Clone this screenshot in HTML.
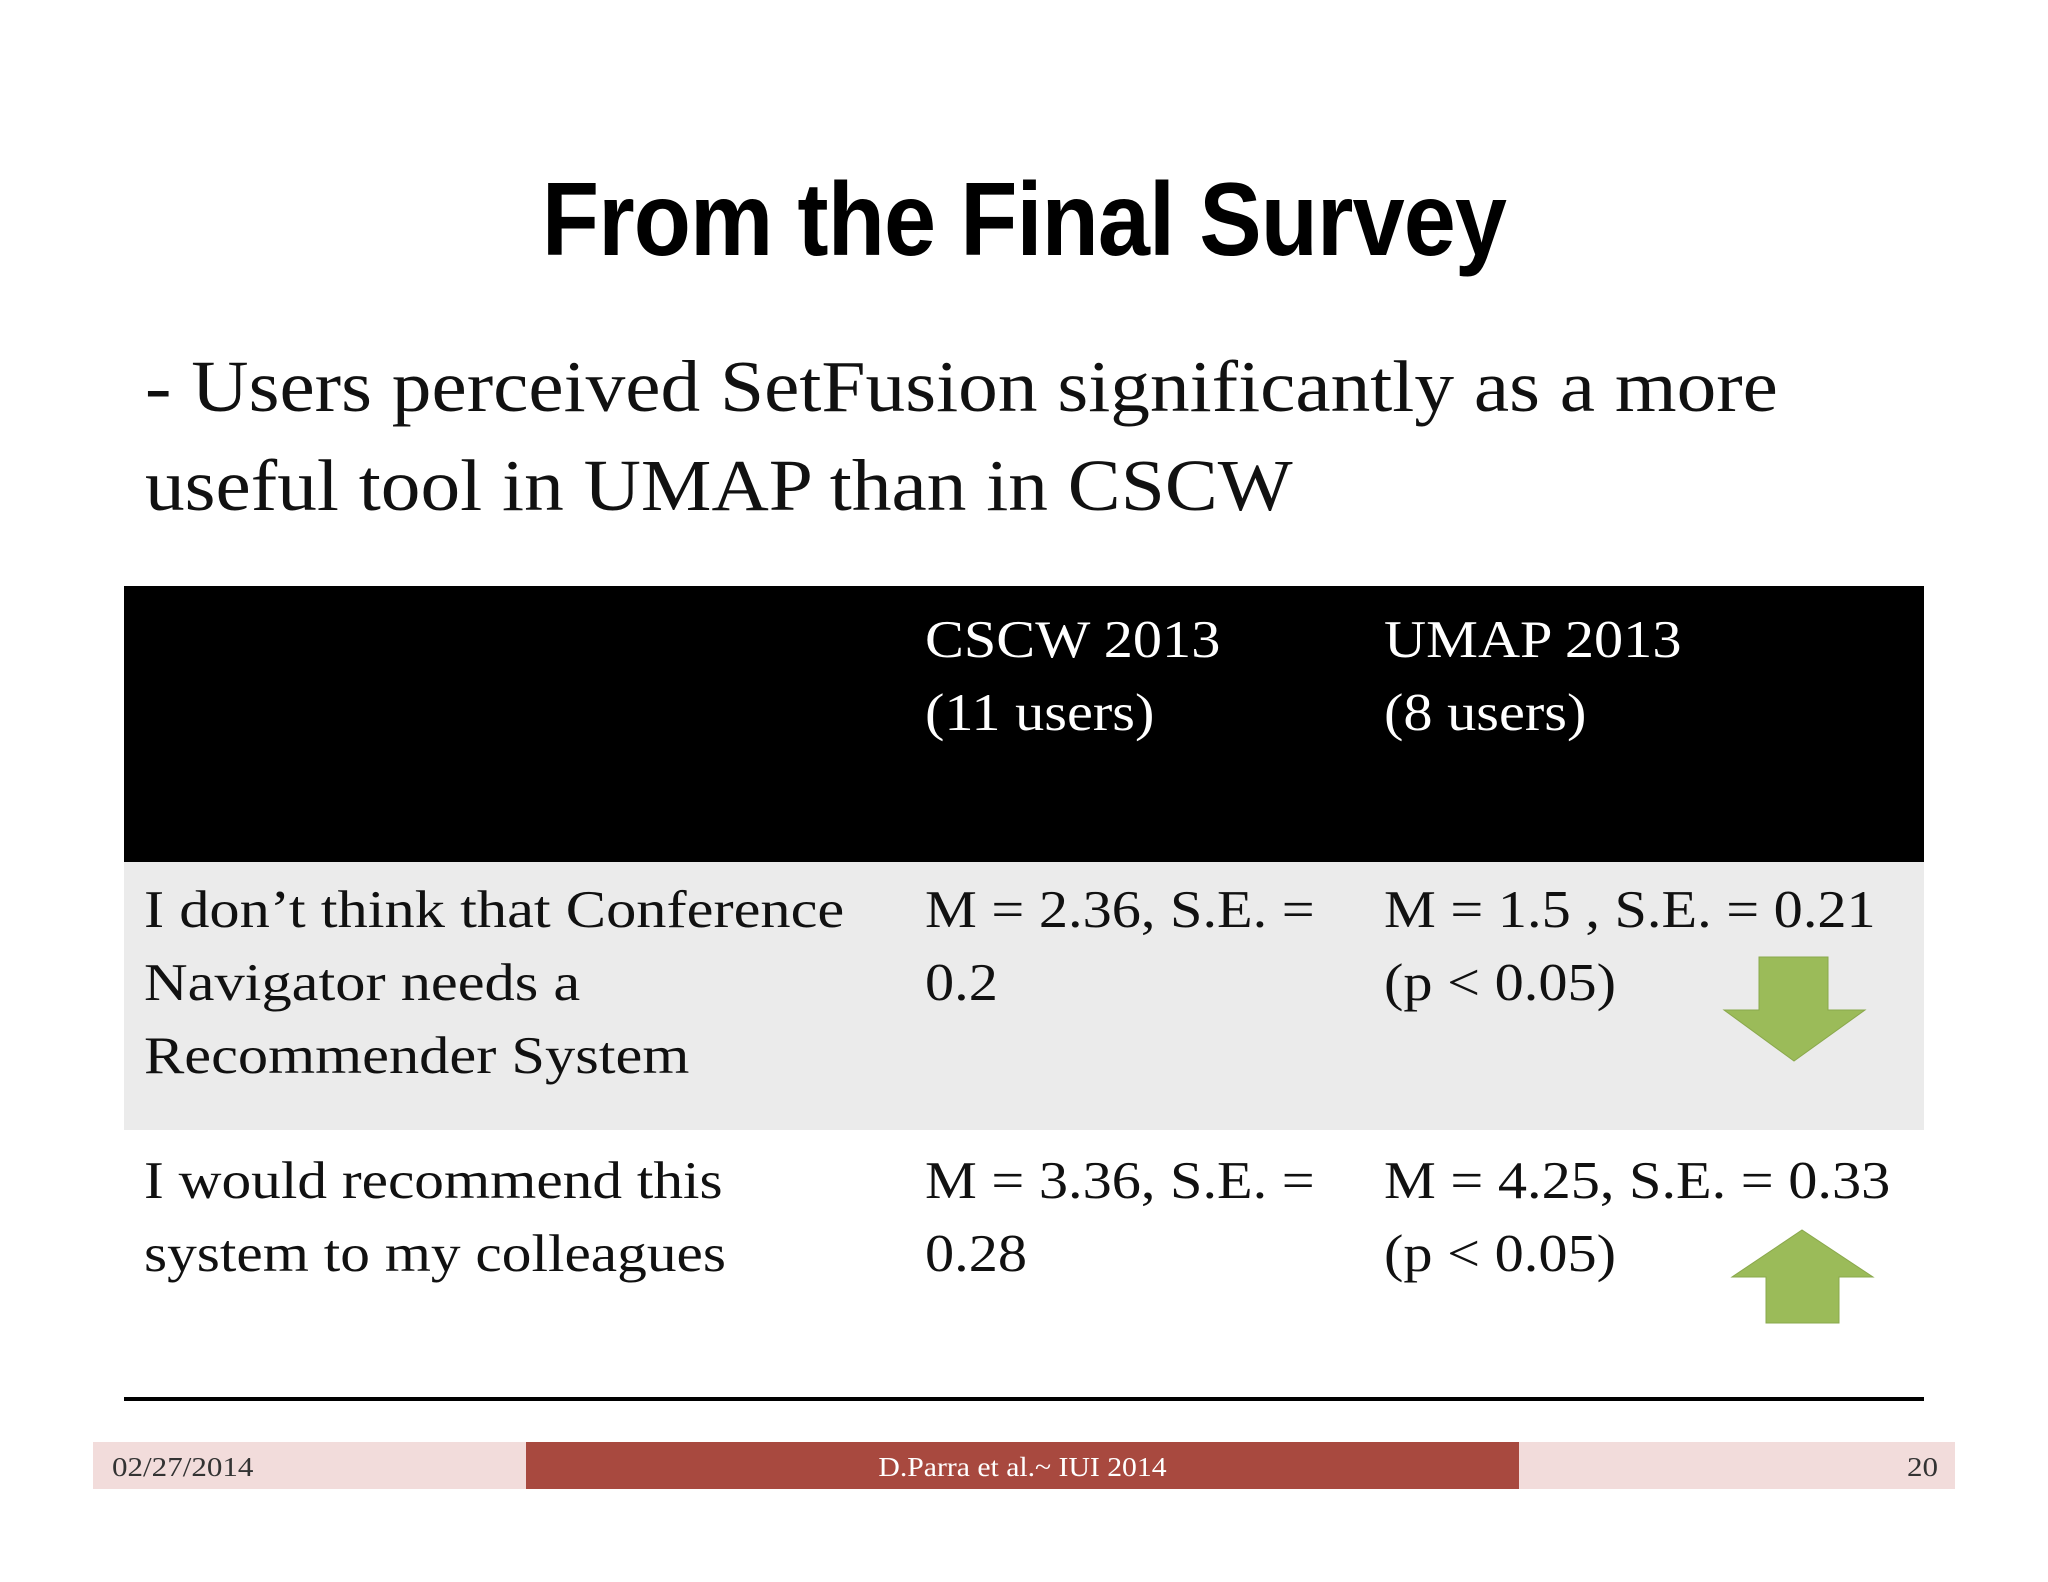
<!DOCTYPE html>
<html><head><meta charset="utf-8"><style>
body{margin:0;width:2048px;height:1582px;background:#fff;position:relative;overflow:hidden;font-family:"Liberation Serif",serif;}
.a{position:absolute;white-space:nowrap;}
#title{left:0;width:2048px;text-align:center;top:155px;font-family:"Liberation Sans",sans-serif;font-weight:bold;font-size:104px;line-height:130px;color:#000;transform:scaleX(0.9);letter-spacing:-1px;}
.sub{left:145px;font-size:73px;color:#111;transform:scaleX(1.087);transform-origin:left top;}
.t{font-size:53px;color:#111;line-height:73px;transform:scaleX(1.1);transform-origin:left top;}
.h{color:#fff;}
.f{font-size:27px;}
.s{transform:scaleX(1.15);transform-origin:left top;}
</style></head><body>
<div class="a" id="title">From the Final Survey</div>
<div class="a sub" style="top:345px">- Users perceived SetFusion significantly as a more</div>
<div class="a sub" style="top:444px">useful tool in UMAP than in CSCW</div>

<div class="a" style="left:124px;top:586px;width:1800px;height:276px;background:#000"></div>
<div class="a" style="left:124px;top:862px;width:1800px;height:268px;background:#ebebeb"></div>
<div class="a" style="left:124px;top:1397px;width:1800px;height:4px;background:#000"></div>

<div class="a t h" style="left:925px;top:604px">CSCW 2013<br>(11 users)</div>
<div class="a t h" style="left:1384px;top:604px">UMAP 2013<br>(8 users)</div>

<div class="a t" style="left:144px;top:874px;transform:scaleX(1.14)">I don’t think that Conference<br>Navigator needs a<br>Recommender System</div>
<div class="a t" style="left:925px;top:874px">M = 2.36, S.E. =<br>0.2</div>
<div class="a t" style="left:1384px;top:874px">M = 1.5 , S.E. = 0.21<br>(p &lt; 0.05)</div>

<div class="a t" style="left:144px;top:1145px;transform:scaleX(1.12)">I would recommend this<br>system to my colleagues</div>
<div class="a t" style="left:925px;top:1145px">M = 3.36, S.E. =<br>0.28</div>
<div class="a t" style="left:1384px;top:1145px">M = 4.25, S.E. = 0.33<br>(p &lt; 0.05)</div>

<svg class="a" style="left:0;top:0" width="2048" height="1582">
<polygon points="1759,957 1828,957 1828,1010 1865,1010 1794,1061 1724,1010 1759,1010" fill="#9bbb59" stroke="#8aa84c" stroke-width="1"/>
<polygon points="1766,1323 1839,1323 1839,1277 1873,1277 1802,1230 1732,1277 1766,1277" fill="#9bbb59" stroke="#8aa84c" stroke-width="1"/>
</svg>

<div class="a" style="left:93px;top:1442px;width:1862px;height:47px;background:#f2dcdb"></div>
<div class="a" style="left:526px;top:1442px;width:993px;height:47px;background:#a8493f"></div>
<div class="a f s" style="left:112px;top:1452px;color:#333">02/27/2014</div>
<div class="a f" style="left:526px;width:993px;text-align:center;top:1452px;color:#fff;transform:scaleX(1.1)">D.Parra et al.~ IUI 2014</div>
<div class="a f s" style="left:1907px;top:1452px;color:#333">20</div>
</body></html>
